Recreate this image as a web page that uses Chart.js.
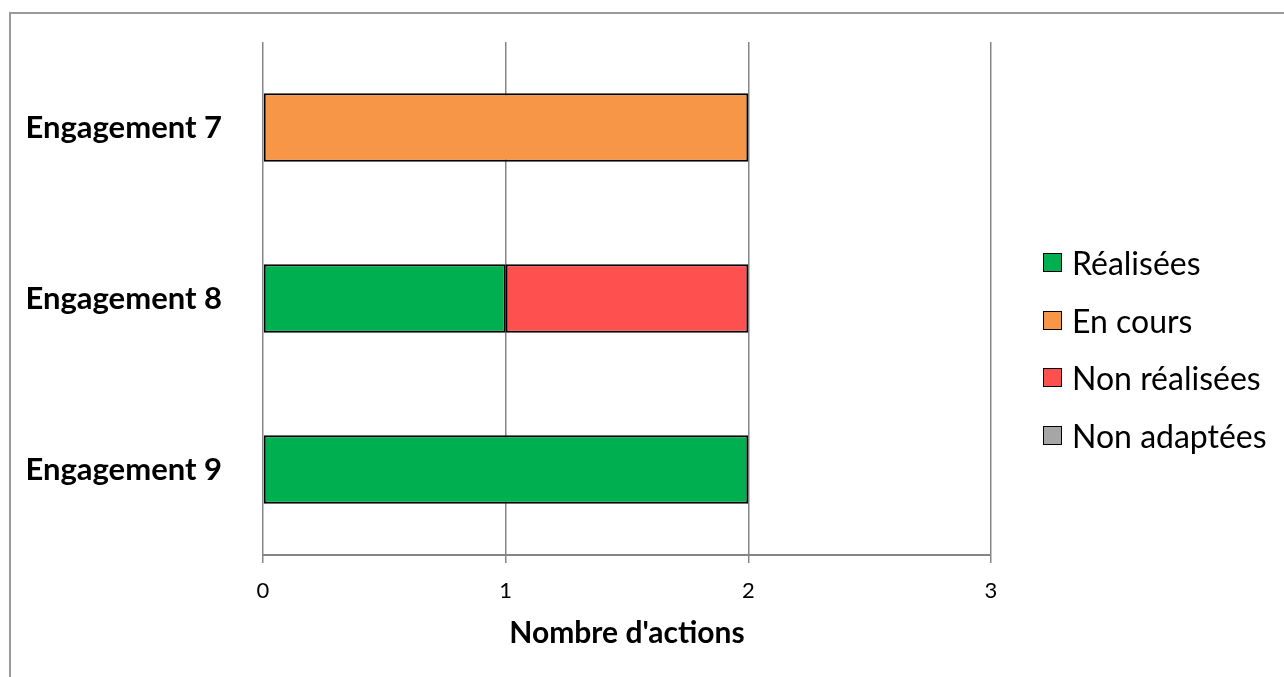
<!DOCTYPE html>
<html>
<head>
<meta charset="utf-8">
<script src="https://cdn.jsdelivr.net/npm/chart.js@4/dist/chart.umd.min.js"></script>
<style>
  html, body { margin: 0; padding: 0; background: #fff; overflow: hidden; }
  #wrap { position: relative; width: 1284px; height: 677px; }
  #frame { position: absolute; left: 9px; top: 12px; width: 1400px; height: 800px;
           border: 2px solid #9a9a9a; box-sizing: border-box; }
  #chart { position: absolute; left: 0; top: 0; }
  #legend { position: absolute; left: 1043px; top: 234px; font-family: Lato, sans-serif; font-size: 32px; color: #000; }
  .item { height: 57.5px; display: flex; align-items: center; }
  .box { width: 17px; height: 17px; border: 1.5px solid #000; margin-right: 10px; }
</style>
</head>
<body>
<div id="wrap">
  <div id="frame"></div>
  <canvas id="chart" width="1284" height="677"></canvas>
  <div id="legend"></div>
</div>
<script>
// categories and series
const engagements = ['Engagement 7', 'Engagement 8', 'Engagement 9'];
const realisees = [0, 1, 2];
const enCours = [2, 0, 0];
const nonRealisees = [0, 1, 0];
const nonAdaptees = [0, 0, 0];
const xTicks = [0, 1, 2, 3];

const seriesNames = ['Réalisées', 'En cours', 'Non réalisées', 'Non adaptées'];
const seriesColors = ['#00B050', '#F79646', '#FF5050', '#A6A6A6'];
const seriesData = [realisees, enCours, nonRealisees, nonAdaptees];

const datasets = seriesNames.map((name, i) => ({
    label: name,
    data: seriesData[i],
    backgroundColor: seriesColors[i],
    borderColor: '#000',
    borderWidth: 2,
    borderSkipped: false,
    categoryPercentage: 1,
    barPercentage: 0.4
}));

const ctx = document.getElementById('chart').getContext('2d');
new Chart(ctx, {
    type: 'bar',
    data: { labels: engagements, datasets: datasets },
    options: {
        indexAxis: 'y',
        responsive: false,
        animation: false,
        layout: { padding: { top: 42, right: 293, left: 0, bottom: 0 } },
        plugins: { legend: { display: false }, tooltip: { enabled: false } },
        scales: {
            x: {
                stacked: true,
                min: 0,
                max: 3,
                afterBuildTicks: axis => { axis.ticks = xTicks.map(v => ({ value: v })); },
                afterFit: axis => { axis.height = 122; },
                grid: { color: '#868686', lineWidth: 1.5, tickLength: 8, drawTicks: true },
                border: { color: '#868686', width: 2 },
                ticks: { color: '#000', font: { family: 'Lato', size: 22 }, padding: 15 },
                title: {
                    display: true,
                    text: "Nombre d'actions",
                    color: '#000',
                    font: { family: 'Lato', size: 30, weight: 'bold' },
                    padding: { top: 0, bottom: 26 }
                }
            },
            y: {
                stacked: true,
                afterFit: axis => {
                    axis.width = 263;
                    axis.paddingTop = 0;
                    axis.paddingBottom = 0;
                },
                grid: { display: false },
                border: { display: false },
                ticks: { color: '#000', font: { family: 'Lato', size: 31, weight: 'bold' }, padding: 33 }
            }
        }
    }
});

// legend built from the series
const legend = document.getElementById('legend');
seriesNames.forEach((name, i) => {
    const item = document.createElement('div');
    item.className = 'item';
    const box = document.createElement('div');
    box.className = 'box';
    box.style.background = seriesColors[i];
    const text = document.createElement('span');
    text.textContent = name;
    item.appendChild(box);
    item.appendChild(text);
    legend.appendChild(item);
});
</script>
</body>
</html>
